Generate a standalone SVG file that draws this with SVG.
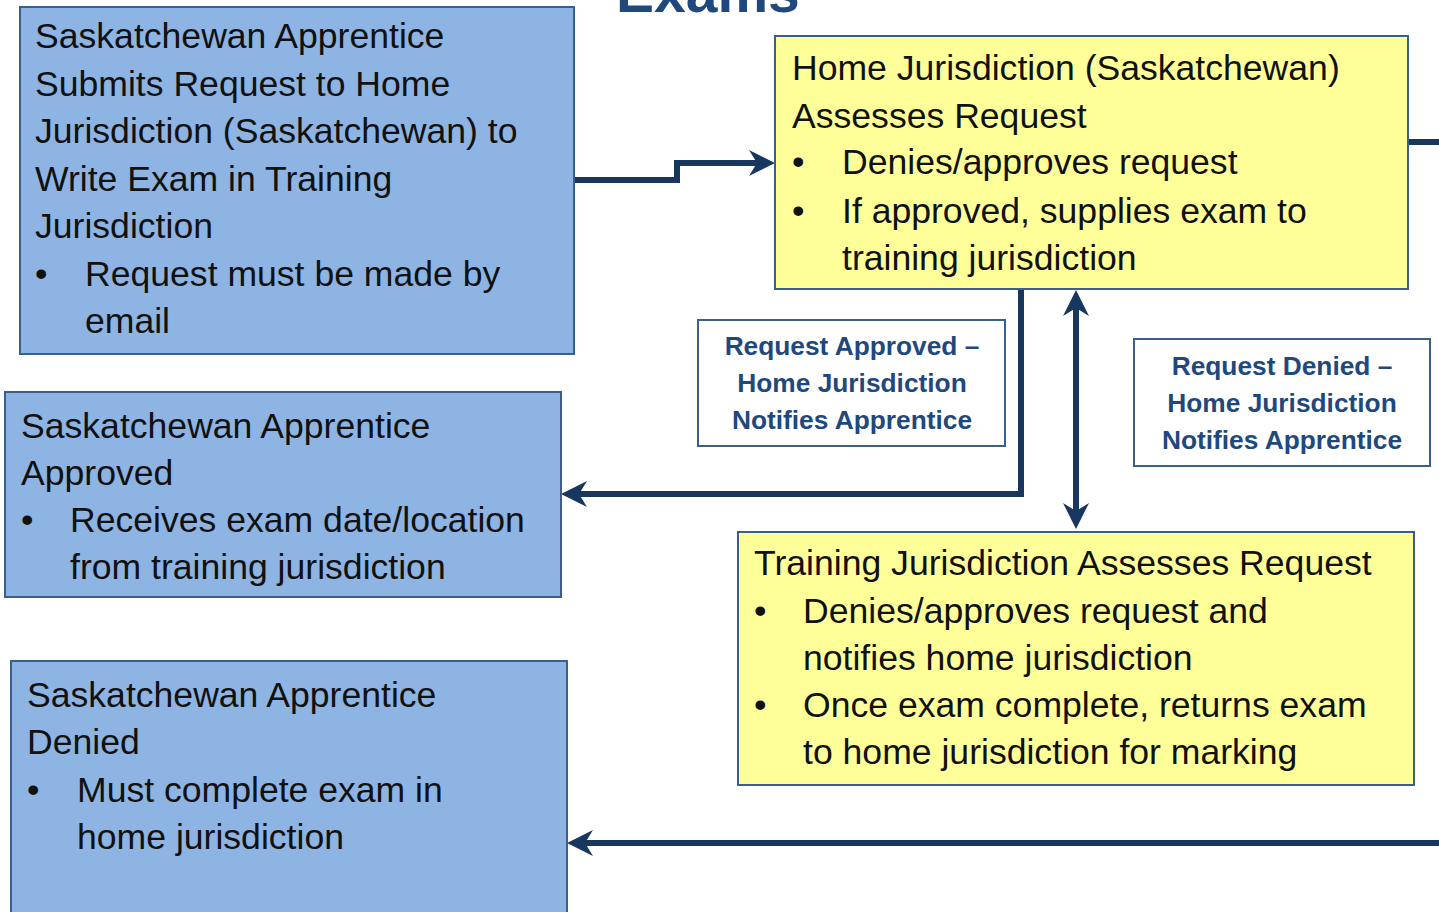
<svg xmlns="http://www.w3.org/2000/svg" width="1439" height="912" viewBox="0 0 1439 912">
<style>
.blue{fill:#8EB4E3;stroke:#3A5F8E;stroke-width:2}
.yel{fill:#FFFF99;stroke:#3A5F8E;stroke-width:2}
.lab{fill:#FFFFFF;stroke:#3A5F8E;stroke-width:2}
.t{font-family:"Liberation Sans",Arial,sans-serif;font-size:35.6px;fill:#111111}
.lt{font-family:"Liberation Sans",Arial,sans-serif;font-size:26.3px;font-weight:bold;fill:#1F497D;text-anchor:middle}
.title{font-family:"Liberation Sans",Arial,sans-serif;font-size:57px;font-weight:bold;fill:#1F497D}
.c{fill:none;stroke:#17375E;stroke-width:6}
</style>
<defs>
<marker id="ah" viewBox="-28 -15 30 30" markerWidth="30" markerHeight="30" refX="-16" refY="0" orient="auto-start-reverse" markerUnits="userSpaceOnUse">
<path d="M0,0 L-26,-13 L-18,0 L-26,13 Z" fill="#17375E"/>
</marker>
</defs>
<text class="title" x="616" y="12">Exams</text>

<g id="connectors">
<path class="c" d="M574,180 H677 V163 H759" marker-end="url(#ah)"/>
<path class="c" d="M1021,289 V494 H577" marker-end="url(#ah)"/>
<path class="c" d="M1076,306 V513" marker-start="url(#ah)" marker-end="url(#ah)"/>
<path class="c" d="M1409,142 H1439"/>
<path class="c" d="M1439,843 H583" marker-end="url(#ah)"/>
</g>

<g id="node-submit">
<rect class="blue" x="20" y="7" width="554" height="347"/>
<text class="t" x="35" y="48">Saskatchewan Apprentice</text>
<text class="t" x="35" y="96">Submits Request to Home</text>
<text class="t" x="35" y="143">Jurisdiction (Saskatchewan) to</text>
<text class="t" x="35" y="191">Write Exam in Training</text>
<text class="t" x="35" y="238">Jurisdiction</text>
<text class="t" x="35" y="286">•</text>
<text class="t" x="85" y="286">Request must be made by</text>
<text class="t" x="85" y="333">email</text>
</g>

<g id="node-approved">
<rect class="blue" x="5" y="392" width="556" height="205"/>
<text class="t" x="21" y="438">Saskatchewan Apprentice</text>
<text class="t" x="21" y="485">Approved</text>
<text class="t" x="21" y="532">•</text>
<text class="t" x="70" y="532">Receives exam date/location</text>
<text class="t" x="70" y="579">from training jurisdiction</text>
</g>

<g id="node-denied">
<rect class="blue" x="11" y="661" width="556" height="260"/>
<text class="t" x="27" y="707">Saskatchewan Apprentice</text>
<text class="t" x="27" y="754">Denied</text>
<text class="t" x="27" y="802">•</text>
<text class="t" x="77" y="802">Must complete exam in</text>
<text class="t" x="77" y="849">home jurisdiction</text>
</g>

<g id="node-home">
<rect class="yel" x="775" y="36" width="633" height="253"/>
<text class="t" x="792" y="80">Home Jurisdiction (Saskatchewan)</text>
<text class="t" x="792" y="128">Assesses Request</text>
<text class="t" x="792" y="174">•</text>
<text class="t" x="842" y="174">Denies/approves request</text>
<text class="t" x="792" y="223">•</text>
<text class="t" x="842" y="223">If approved, supplies exam to</text>
<text class="t" x="842" y="270">training jurisdiction</text>
</g>

<g id="node-training">
<rect class="yel" x="738" y="532" width="676" height="253"/>
<text class="t" x="754" y="575">Training Jurisdiction Assesses Request</text>
<text class="t" x="754" y="623">•</text>
<text class="t" x="803" y="623">Denies/approves request and</text>
<text class="t" x="803" y="670">notifies home jurisdiction</text>
<text class="t" x="754" y="717">•</text>
<text class="t" x="803" y="717">Once exam complete, returns exam</text>
<text class="t" x="803" y="764">to home jurisdiction for marking</text>
</g>

<g id="label-approved">
<rect class="lab" x="698" y="320" width="307" height="126"/>
<text class="lt" x="852" y="355">Request Approved –</text>
<text class="lt" x="852" y="392">Home Jurisdiction</text>
<text class="lt" x="852" y="429">Notifies Apprentice</text>
</g>

<g id="label-denied">
<rect class="lab" x="1134" y="339" width="296" height="127"/>
<text class="lt" x="1282" y="375">Request Denied –</text>
<text class="lt" x="1282" y="412">Home Jurisdiction</text>
<text class="lt" x="1282" y="449">Notifies Apprentice</text>
</g>
</svg>
